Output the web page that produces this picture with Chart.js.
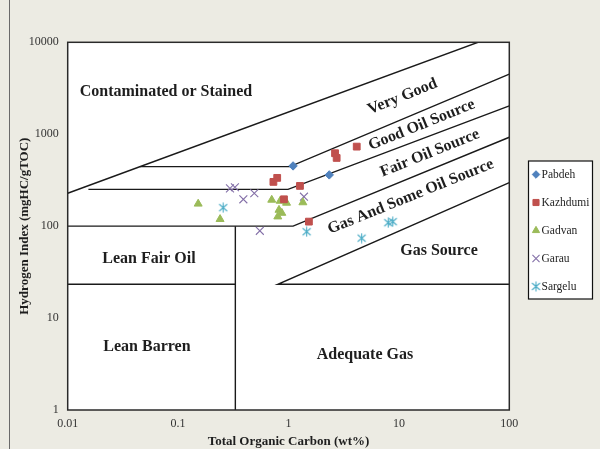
<!DOCTYPE html>
<html>
<head>
<meta charset="utf-8">
<script src="https://cdn.jsdelivr.net/npm/chart.js@4.4.0/dist/chart.umd.min.js"></script>
<style>
  html, body { margin: 0; padding: 0; background: #ecebe3; }
  #wrap { width: 600px; height: 449px; position: relative; }
</style>
</head>
<body>
<div id="wrap"><canvas id="chart"></canvas></div>
<script>
//DATA (TOC wt%, HI mgHC/gTOC)
const pabdehToc = [1.10, 2.34];
const pabdehHi = [452, 361];
const kazhdumiToc = [0.73, 0.79, 1.27, 2.64, 2.73, 4.15, 0.91, 1.53];
const kazhdumiHi = [303, 335, 274, 621, 552, 733, 196, 112];
const gadvanToc = [0.152, 0.24, 0.705, 0.84, 0.96, 0.82, 0.87, 0.80, 1.35];
const gadvanHi = [175, 119, 193, 188, 179, 150, 139, 127, 181];
const garauToc = [0.295, 0.327, 0.39, 0.49, 0.55, 1.38];
const garauHi = [258, 265, 196, 228, 89, 209];
const sargeluToc = [0.256, 1.46, 4.6, 8.0, 8.8];
const sargeluHi = [159, 87, 74, 109, 112];

//BOUNDARY LINES [toc, hi]
const boundaryLines = [
  [[0.01, 228], [52, 10000]],
  [[0.045, 444], [1.03, 444], [100, 4500]],
  [[0.0154, 251], [0.99, 251], [100, 2030]],
  [[0.01, 100], [1.1, 100], [100, 927]],
  [[0.33, 1], [0.33, 100]],
  [[0.01, 23.3], [0.33, 23.3]],
  [[100, 23.3], [0.8, 23.3], [100, 297]],
];

//TICKS
const xTickVals = [0.01, 0.1, 1, 10, 100];
const xTickLabels = ["0.01", "0.1", "1", "10", "100"];
const yTickVals = [1, 10, 100, 1000, 10000];
const yTickLabels = ["1", "10", "100", "1000", "10000"];

//REGION LABELS
const regionText = ["Contaminated or Stained", "Very Good", "Good Oil Source", "Fair Oil Source",
  "Gas And Some Oil Source", "Gas Source", "Lean Fair Oil", "Lean Barren", "Adequate Gas"];
const regionToc = [0.0776, 10.8, 16.1, 19.1, 12.8, 23.1, 0.0545, 0.0522, 4.93];
const regionHi = [2910, 2566, 1262, 621, 209, 54.1, 43.6, 4.81, 3.97];
const regionTilt = [0, -22, -22, -22, -22, 0, 0, 0, 0];

const serif = "'Liberation Serif', 'Times New Roman', serif";

function pts(xs, ys) {
  return xs.map((x, i) => ({ x: x, y: ys[i] }));
}

//excel style asterisk marker
function asterisk(color) {
  let c = document.createElement("canvas");
  c.width = 11;
  c.height = 11;
  let g = c.getContext("2d");
  g.strokeStyle = color;
  g.lineWidth = 1.1;
  g.beginPath();
  g.moveTo(1.5, 2); g.lineTo(9.5, 9);
  g.moveTo(9.5, 2); g.lineTo(1.5, 9);
  g.moveTo(5.5, 0.5); g.lineTo(5.5, 10.5);
  g.stroke();
  return c;
}

let datasets = [
  { label: "Pabdeh", data: pts(pabdehToc, pabdehHi), pointStyle: "rectRot", pointRadius: 4.2,
    backgroundColor: "#4f81bd", borderColor: "#4f81bd", borderWidth: 1 },
  { label: "Kazhdumi", data: pts(kazhdumiToc, kazhdumiHi), pointStyle: "rect", pointRadius: 4.8,
    backgroundColor: "#c0504d", borderColor: "#c0504d", borderWidth: 1 },
  { label: "Gadvan", data: pts(gadvanToc, gadvanHi), pointStyle: "triangle", pointRadius: 4.6,
    backgroundColor: "#9bbb59", borderColor: "#9bbb59", borderWidth: 1 },
  { label: "Garau", data: pts(garauToc, garauHi), pointStyle: "crossRot", pointRadius: 5.6,
    backgroundColor: "#8470a8", borderColor: "#8470a8", borderWidth: 1.1 },
  { label: "Sargelu", data: pts(sargeluToc, sargeluHi), pointStyle: asterisk("#4bacc6"), pointRadius: 5,
    backgroundColor: "#4bacc6", borderColor: "#4bacc6", borderWidth: 1 },
];

for (let line of boundaryLines) {
  datasets.push({
    type: "line",
    data: line.map((p) => ({ x: p[0], y: p[1] })),
    borderColor: "#1a1a1a",
    borderWidth: 1.4,
    pointRadius: 0,
    fill: false,
    tension: 0,
  });
}

//background, frame, labels, legend
const decor = {
  id: "decor",
  beforeDraw(chart) {
    let ctx = chart.ctx;
    let a = chart.chartArea;
    ctx.save();
    ctx.fillStyle = "#ecebe3";
    ctx.fillRect(0, 0, chart.width, chart.height);
    ctx.strokeStyle = "#6a6a6a";
    ctx.lineWidth = 1;
    ctx.beginPath();
    ctx.moveTo(9.5, 0);
    ctx.lineTo(9.5, chart.height);
    ctx.stroke();
    ctx.fillStyle = "#ffffff";
    ctx.fillRect(a.left, a.top, a.right - a.left, a.bottom - a.top);
    ctx.restore();
  },
  beforeDatasetsDraw(chart) {
    let ctx = chart.ctx;
    let xs = chart.scales.x;
    let ys = chart.scales.y;
    ctx.save();
    ctx.fillStyle = "#1e1e1e";
    ctx.font = "bold 16px " + serif;
    ctx.textAlign = "center";
    ctx.textBaseline = "middle";
    for (let i = 0; i < regionText.length; i++) {
      ctx.save();
      ctx.translate(xs.getPixelForValue(regionToc[i]), ys.getPixelForValue(regionHi[i]));
      ctx.rotate((regionTilt[i] * Math.PI) / 180);
      ctx.fillText(regionText[i], 0, 0);
      ctx.restore();
    }
    ctx.restore();
  },
  afterDatasetsDraw(chart) {
    let ctx = chart.ctx;
    let a = chart.chartArea;
    ctx.save();
    ctx.strokeStyle = "#2a2a2a";
    ctx.lineWidth = 1.5;
    ctx.strokeRect(a.left, a.top, a.right - a.left, a.bottom - a.top);

    //legend box
    ctx.fillStyle = "#ffffff";
    ctx.fillRect(528.5, 161, 64, 138);
    ctx.strokeStyle = "#111";
    ctx.lineWidth = 1.2;
    ctx.strokeRect(528.5, 161, 64, 138);
    ctx.font = "11.5px " + serif;
    ctx.textAlign = "left";
    ctx.textBaseline = "middle";
    let series = chart.data.datasets.filter((d) => d.label);
    series.forEach((d, i) => {
      let y = 174.5 + i * 28;
      ctx.fillStyle = d.backgroundColor;
      ctx.strokeStyle = d.borderColor;
      ctx.lineWidth = d.borderWidth;
      Chart.helpers.drawPoint(ctx, {
        pointStyle: d.pointStyle,
        radius: d.pointRadius * 0.9,
        rotation: 0,
        borderWidth: d.borderWidth,
      }, 536, y);
      ctx.fillStyle = "#1e1e1e";
      ctx.fillText(d.label, 541.5, y + 0.5);
    });
    ctx.restore();
  },
};

new Chart(document.getElementById("chart"), {
  type: "scatter",
  data: { datasets: datasets },
  plugins: [decor],
  options: {
    responsive: true,
    maintainAspectRatio: false,
    animation: false,
    layout: { padding: { left: 0, top: 42.3, right: 90.7, bottom: 0 } },
    plugins: {
      legend: { display: false },
      tooltip: { enabled: false },
    },
    scales: {
      x: {
        type: "logarithmic",
        min: 0.01,
        max: 100,
        grid: { display: false, drawTicks: false },
        border: { display: false },
        afterBuildTicks: (scale) => {
          scale.ticks = xTickVals.map((v) => ({ value: v }));
        },
        afterFit: (scale) => {
          scale.height = 39;
        },
        ticks: {
          autoSkip: false,
          maxRotation: 0,
          padding: 7,
          color: "#333",
          font: { family: serif, size: 12 },
          callback: (v) => xTickLabels[xTickVals.indexOf(v)],
        },
        title: {
          display: true,
          text: "Total Organic Carbon (wt%)",
          color: "#1e1e1e",
          font: { family: serif, size: 13, weight: "bold" },
          padding: { top: 0, bottom: 0 },
        },
      },
      y: {
        type: "logarithmic",
        min: 1,
        max: 10000,
        grid: { display: false, drawTicks: false },
        border: { display: false },
        afterBuildTicks: (scale) => {
          scale.ticks = yTickVals.map((v) => ({ value: v }));
        },
        afterFit: (scale) => {
          scale.width = 67.7;
        },
        ticks: {
          autoSkip: false,
          padding: 9,
          color: "#333",
          font: { family: serif, size: 12 },
          callback: (v) => yTickLabels[yTickVals.indexOf(v)],
        },
        title: {
          display: true,
          text: "Hydrogen Index (mgHC/gTOC)",
          color: "#1e1e1e",
          font: { family: serif, size: 13, weight: "bold" },
          padding: { top: 17, bottom: 0 },
        },
      },
    },
  },
});
</script>
</body>
</html>
